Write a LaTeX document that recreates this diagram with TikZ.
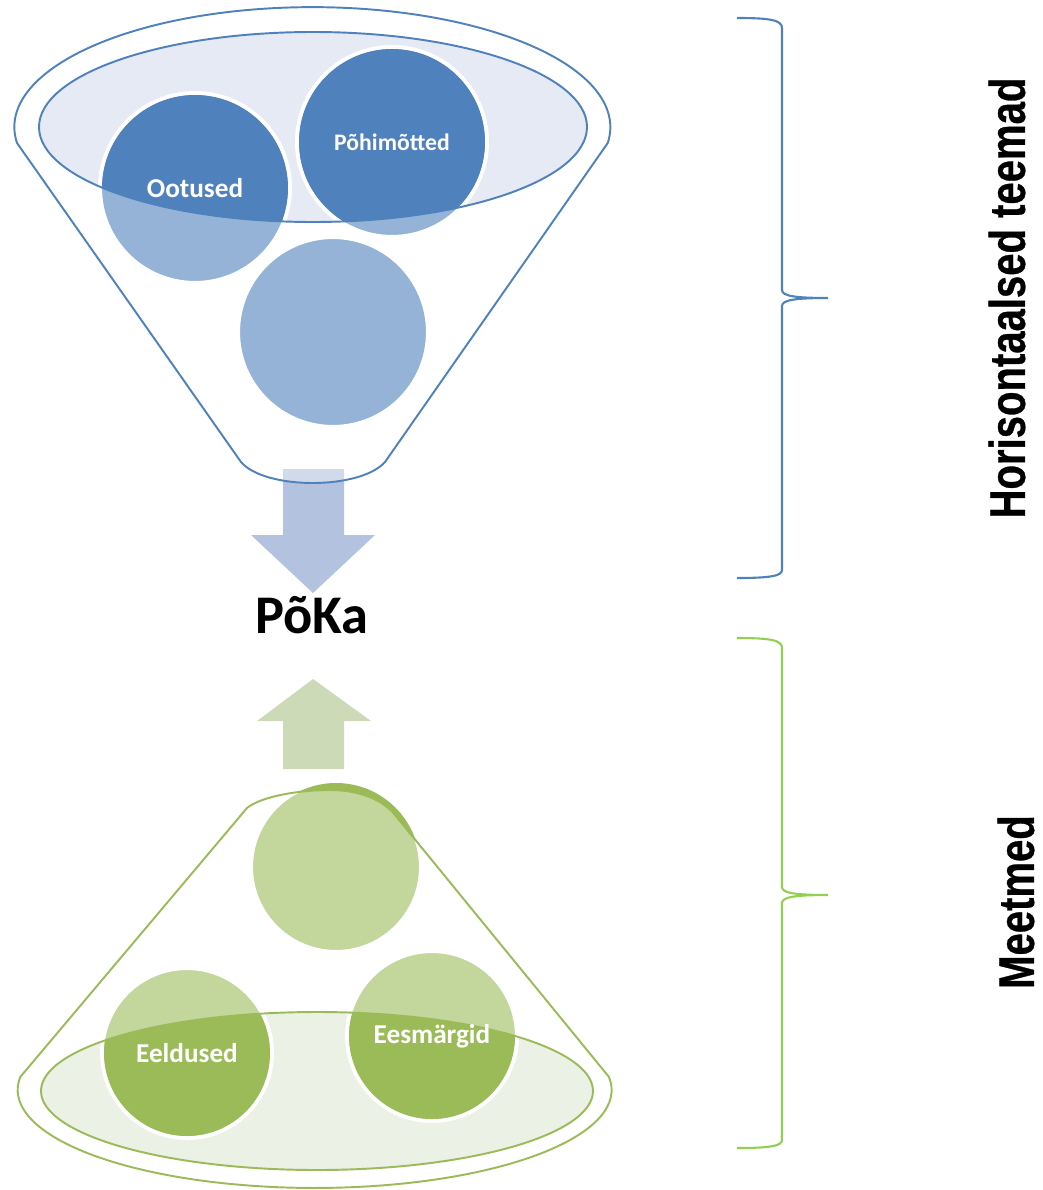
\documentclass[tikz,border=0pt]{standalone}
\usepackage{fontspec}
\setmainfont{Carlito}
\newfontfamily\sidefont[FakeStretch=0.8, FakeBold=0.6]{Liberation Sans}
\definecolor{topline}{HTML}{4F81BD}
\definecolor{topdark}{HTML}{4F81BD}
\definecolor{toplight}{HTML}{95B3D7}
\definecolor{topfill}{HTML}{E5EAF4}
\definecolor{toparrow}{HTML}{B3C2DE}
\definecolor{botline}{HTML}{9BBB59}
\definecolor{botdark}{HTML}{9BBB59}
\definecolor{botlight}{HTML}{C3D69B}
\definecolor{botfill}{HTML}{EBF1E4}
\definecolor{botarrow}{HTML}{CCDAB8}
\definecolor{bracegreen}{HTML}{92D050}
\tikzset{
  bigbubble/.style={circle, draw=white, line width=2.3pt, inner sep=0pt, minimum size=3.8cm},
  smallbubble/.style={circle, draw=white, line width=2.3pt, inner sep=0pt, minimum size=3.4cm},
  bubbletext/.style={text=white, font=\bfseries\fontsize{15.5}{17}\selectfont},
  funnelline/.style={line width=1.1pt},
  brace/.style={line width=1.2pt},
  sidetext/.style={rotate=90, font=\sidefont\bfseries\fontsize{28.5}{30}\selectfont},
}

\begin{document}
\begin{tikzpicture}[x=0.02cm, y=-0.02cm]
		\useasboundingbox (0,0) rectangle (1043,1190);

		% top funnel
		\fill[toparrow] (283,469) -- (344,469) -- (344,535) -- (375,535) -- (313,593)
		-- (251,535) -- (283,535) -- cycle;
		\fill[white, opacity=0.4] (241,462) -- (17,143)
		arc[start angle=172.4, end angle=367.6, x radius=298, y radius=120]
		-- (385,462) .. controls (360,490) and (265,490) .. (241,462) -- cycle;
		\fill[topfill] (313,127) ellipse[x radius=274, y radius=95];
		\node[bigbubble, fill=toplight] (ootused) at (195,188) {};
		\node[bigbubble, fill=toplight] (pohimotted) at (392,142) {};
		\node[bigbubble, fill=toplight] (topthird) at (333,332) {};
		\begin{scope}
			\clip (313,127) ellipse[x radius=274, y radius=95];
			\fill[topdark] (ootused.center) circle[radius=93];
			\fill[topdark] (pohimotted.center) circle[radius=93];
		\end{scope}
		\draw[topline, funnelline] (313,127) ellipse[x radius=274, y radius=95];
		\draw[topline, funnelline] (241,462) -- (17,143)
		arc[start angle=172.4, end angle=367.6, x radius=298, y radius=120]
		-- (385,462) .. controls (360,490) and (265,490) .. (241,462) -- cycle;
		\node[bubbletext] at (ootused) {Ootused};
		\node[bubbletext, font=\bfseries\fontsize{13.5}{15}\selectfont] at (pohimotted) {Põhimõtted};

		% middle
		\node[font=\bfseries\fontsize{31}{35}\selectfont, anchor=base] (poka) at (312,633) {PõKa};

		% bottom funnel
		\fill[botarrow] (313,679) -- (371,721) -- (344,721) -- (344,769) -- (283,769)
		-- (283,721) -- (257,721) -- cycle;
		\fill[botfill] (317,1091) ellipse[x radius=276, y radius=79];
		\node[smallbubble, fill=botlight] (botthird) at (336,867) {};
		\node[smallbubble, fill=botlight] (eeldused) at (187,1053) {};
		\node[smallbubble, fill=botlight] (eesmargid) at (432,1036) {};
		\begin{scope}
			\clip (317,1091) ellipse[x radius=276, y radius=79];
			\fill[botdark] (eeldused.center) circle[radius=83];
			\fill[botdark] (eesmargid.center) circle[radius=83];
		\end{scope}
		\begin{scope}
			\clip (botthird.center) circle[radius=84];
			\fill[botdark] (247,808) .. controls (262,796) and (300,790) .. (330,790)
			.. controls (360,790) and (383,800) .. (395,815) -- (480,918) -- (480,760)
			-- (240,760) -- cycle;
		\end{scope}
		\draw[botline, funnelline] (317,1091) ellipse[x radius=276, y radius=79];
		\draw[botline, funnelline] (609,1077)
		arc[start angle=-7.6, end angle=187.6, x radius=297, y radius=98]
		-- (247,808) .. controls (262,796) and (300,790) .. (330,790)
		.. controls (360,790) and (383,800) .. (395,815) -- cycle;
		\node[bubbletext] at (eeldused) {Eeldused};
		\node[bubbletext] at (eesmargid) {Eesmärgid};

		% braces
		\draw[topline, brace] (737,18) .. controls (770,18) and (782,20) .. (782,28)
		-- (782,290) .. controls (782,296) and (795,298) .. (828,298)
		.. controls (795,298) and (782,300) .. (782,306) -- (782,570)
		.. controls (782,576) and (770,578) .. (737,578);
		\draw[bracegreen, brace] (737,638) .. controls (770,638) and (782,640) .. (782,648)
		-- (782,887) .. controls (782,893) and (795,895) .. (828,895)
		.. controls (795,895) and (782,897) .. (782,903) -- (782,1140)
		.. controls (782,1146) and (770,1148) .. (737,1148);
		\node[sidetext] (horisontaalsed) at (1007,298) {Horisontaalsed teemad};
		\node[sidetext] (meetmed) at (1016,902) {Meetmed};

	\end{tikzpicture}
\end{document}
